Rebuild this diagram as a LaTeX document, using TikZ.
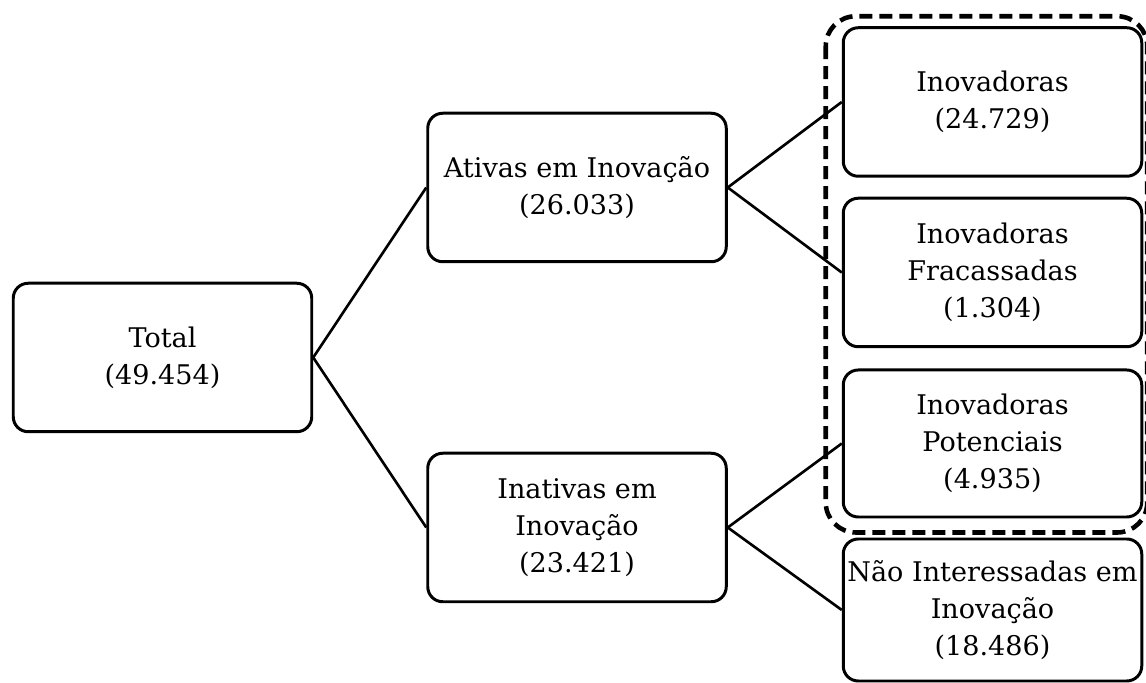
\documentclass[tikz,border=0pt]{standalone}
\usepackage{fontspec}
\setmainfont{DejaVu Serif}
\usetikzlibrary{calc}

\begin{document}
\begin{tikzpicture}[
		caixa/.style={draw, line width=1.7pt, rounded corners=0.3cm, align=center,
			minimum width=5.97cm, minimum height=2.97cm, inner sep=0pt,
			font=\fontsize{15.4}{21}\selectfont},
		ligacao/.style={line width=1.5pt}]
		%%%%% START %%%%%
		
		\useasboundingbox (0, 0) rectangle (22.92, 13.66);
		
		\node[caixa] (total) at (3.25, 6.51) {Total\\(49.454)};
		
		\node[caixa] (ativas) at (11.54, 9.91) {Ativas em Inovação\\(26.033)};
		\node[caixa] (inativas) at (11.54, 3.11) {Inativas em\\Inovação\\(23.421)};
		
		\node[caixa] (inov) at (19.85, 11.62) {Inovadoras\\(24.729)};
		\node[caixa] (fracas) at (19.85, 8.21) {Inovadoras\\Fracassadas\\(1.304)};
		\node[caixa, minimum height=2.94cm] (potenc) at (19.85, 4.79) {Inovadoras\\Potenciais\\(4.935)};
		\node[caixa, minimum height=2.84cm] (naoint) at (19.85, 1.46) {Não Interessadas em\\Inovação\\(18.486)};
		
		\draw[ligacao] (total.east) -- (ativas.west);
		\draw[ligacao] (total.east) -- (inativas.west);
		\draw[ligacao] (ativas.east) -- (inov.west);
		\draw[ligacao] (ativas.east) -- (fracas.west);
		\draw[ligacao] (inativas.east) -- (potenc.west);
		\draw[ligacao] (inativas.east) -- (naoint.west);
		
		\draw[line width=2.6pt, dash pattern=on 0.26cm off 0.14cm, rounded corners=0.6cm]
			($(inov.north west)+(-0.32, 0.2)$) rectangle ($(potenc.south east)+(0.08, -0.28)$);
		
		%%%%% END %%%%%
\end{tikzpicture}
\end{document}
